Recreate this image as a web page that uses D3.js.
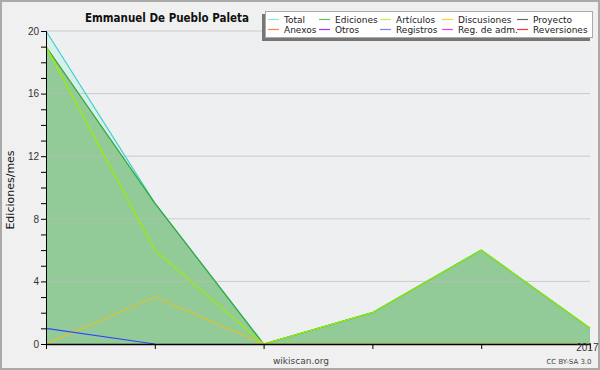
<!DOCTYPE html>
<html lang="es">
<head>
<meta charset="UTF-8">
<script src="https://d3js.org/d3.v7.min.js"></script>
<title>Emmanuel De Pueblo Paleta</title>
<style>
  body { margin: 0; background: #f0f0f0; }
  svg { display: block; font-family: 'DejaVu Sans', sans-serif; }
  .tick text { fill: #333; font-size: 10px; }
  .leg text { font-size: 9px; fill: #222; }
</style>
</head>
<body>
<svg width="600" height="370"></svg>
<script>
  const width = 600, height = 370;
  const months = [0, 1, 2, 3, 4, 5];
  const total = [20, 9, 0, 2, 6, 1];
  const ediciones = [19, 9, 0, 2, 6, 1];
  const articulos = [19, 6, 0, 2, 6, 1];
  const discusiones = [0, 3, 0, 0, 0, 0];
  const registros = [1, 0];
  const yTicks = [0, 4, 8, 12, 16, 20];
  const legendNames = ["Total", "Ediciones", "Artículos", "Discusiones", "Proyecto",
                       "Anexos", "Otros", "Registros", "Reg. de adm.", "Reversiones"];
  const legendColors = ["#8fe0e0", "#66c066", "#c0f040", "#ffcc33", "#666666",
                        "#ff7f3f", "#9933ff", "#7f7fff", "#ff33ff", "#ff3333"];

  const svg = d3.select("svg");
  const x = d3.scaleLinear().domain([0, 5]).range([46, 590]);
  const y = d3.scaleLinear().domain([0, 20]).range([344, 31]);

  // background + border
  svg.append("rect").attr("x", 1).attr("y", 1).attr("width", width - 2).attr("height", height - 2)
     .attr("fill", "#f0f0f0").attr("stroke", "#aaa").attr("stroke-width", 2);
  svg.append("rect").attr("x", x(0)).attr("y", y(20)).attr("width", x(5) - x(0)).attr("height", y(0) - y(20))
     .attr("fill", "#eeeff0");

  const area = d => d3.area().x((v, i) => x(months[i])).y0(y(0)).y1(v => y(v))(d);
  const line = d => d3.line().x((v, i) => x(months[i])).y(v => y(v))(d);

  svg.append("path").attr("d", area(total)).attr("fill", "#d8f0ec");
  svg.append("path").attr("d", area(ediciones)).attr("fill", "#93cb98");

  // grid lines
  svg.append("g").selectAll("line").data(yTicks.filter(d => d > 0)).join("line")
     .attr("x1", x(0)).attr("x2", x(5)).attr("y1", d => y(d)).attr("y2", d => y(d))
     .attr("stroke", "#bbb").attr("stroke-opacity", 0.7);

  const drawLine = (data, color) => svg.append("path").attr("d", line(data))
     .attr("fill", "none").attr("stroke", color).attr("stroke-width", 1.2);
  drawLine(total, "#40d0d0");
  drawLine(ediciones, "#33a833");
  drawLine(articulos, "#99ee00");
  drawLine(discusiones, "#e6c020");
  drawLine(registros, "#3344ff");

  // axes
  const yAxis = d3.axisLeft(y).ticks(20).tickSize(5).tickPadding(2)
     .tickFormat(d => yTicks.includes(d) ? d : "");
  const gy = svg.append("g").attr("transform", `translate(${x(0)},0)`).call(yAxis);
  gy.select(".domain").attr("stroke", "#000");
  gy.selectAll(".tick line").attr("stroke", "#000");

  const xAxis = d3.axisBottom(x).tickValues(months).tickSize(5).tickSizeOuter(0)
     .tickFormat(d => d === 5 ? "2017" : "");
  const gx = svg.append("g").attr("transform", `translate(0,${y(0)})`).call(xAxis);
  gx.select(".domain").attr("stroke", "#000").attr("stroke-width", 1.5);
  gx.selectAll(".tick line").attr("stroke", "#000");
  gx.selectAll(".tick text").attr("dy", "-0.1em").attr("text-anchor", "end").attr("x", 8);

  // title & labels
  svg.append("text").attr("x", 167).attr("y", 22).attr("text-anchor", "middle")
     .style("font-size", "12px").style("font-weight", "bold").attr("fill", "#111")
     .attr("textLength", 164).attr("lengthAdjust", "spacingAndGlyphs")
     .text("Emmanuel De Pueblo Paleta");
  svg.append("text").attr("transform", "translate(14,190) rotate(-90)").attr("text-anchor", "middle")
     .style("font-size", "11px").attr("fill", "#111").text("Ediciones/mes");
  svg.append("text").attr("x", 301).attr("y", 364).attr("text-anchor", "middle")
     .style("font-size", "9px").attr("fill", "#444").text("wikiscan.org");
  svg.append("text").attr("x", 569).attr("y", 364).attr("text-anchor", "middle")
     .style("font-size", "7px").attr("fill", "#444").text("CC BY-SA 3.0");

  // legend
  const leg = svg.append("g").attr("class", "leg");
  leg.append("rect").attr("x", 262).attr("y", 14).attr("width", 328).attr("height", 27).attr("fill", "#777");
  leg.append("rect").attr("x", 265.5).attr("y", 11.5).attr("width", 327).attr("height", 26)
     .attr("fill", "#fff").attr("stroke", "#aaa");
  const colX = [268, 319, 380, 442, 517];
  const items = leg.selectAll("g.item").data(legendNames).join("g").attr("class", "item")
     .attr("transform", (d, i) => `translate(${colX[i % 5]},${i < 5 ? 19.5 : 29.5})`);
  items.append("line").attr("x1", 0).attr("x2", 11).attr("stroke", (d, i) => legendColors[i]).attr("stroke-width", 1.2);
  items.append("text").attr("x", 16).attr("dy", "0.35em").text(d => d);
</script>
</body>
</html>
